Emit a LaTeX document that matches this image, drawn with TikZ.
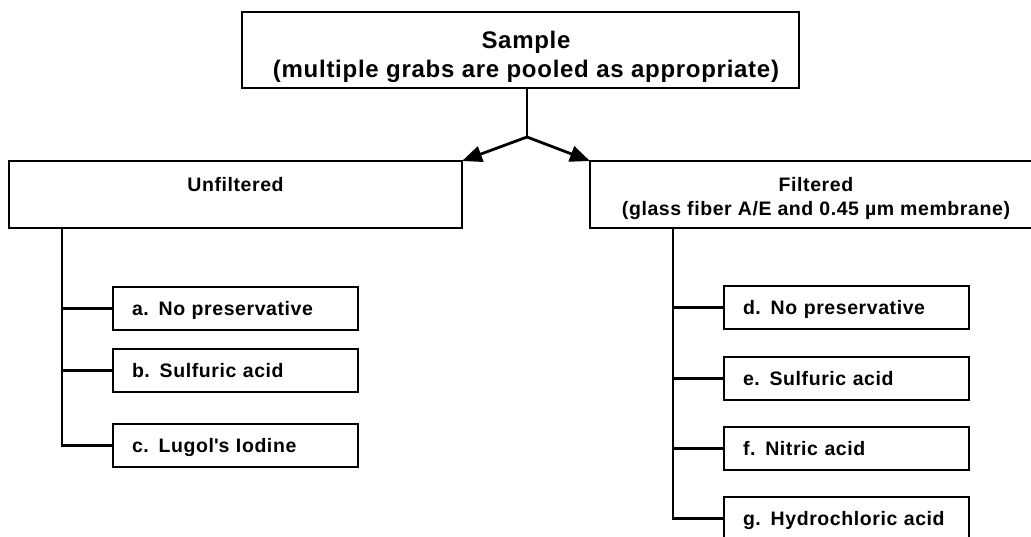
\documentclass[tikz,border=0pt]{standalone}
\usepackage{fontspec}
\setmainfont{Liberation Sans}[LetterSpace=3]
\usetikzlibrary{arrows.meta}

% type sizes for the headings and the preservation boxes
\newcommand\headfont{\fontsize{24pt}{29pt}\selectfont\bfseries}
\newcommand\midfont{\fontsize{19.5pt}{24pt}\selectfont\bfseries}

\begin{document}
\begin{tikzpicture}[x=1pt, y=-1pt,
  every node/.style={outer sep=0pt},
  frame/.style={draw, line width=2.8pt, inner sep=0pt, anchor=north west},
  leaf/.style={frame, minimum width=245pt, minimum height=43pt,
    text width=207pt, inner xsep=19pt, align=left,
    text height=14pt, text depth=0pt, font=\midfont},
  heading/.style={anchor=base, inner sep=0pt},
  link/.style={line width=2.8pt},
  tip/.style={-{Triangle[length=20pt,width=16pt]}}]

\useasboundingbox (0,0) rectangle (1031,536);
\clip (0,0) rectangle (1031,536);

% sample box
\node[frame, minimum width=557pt, minimum height=76pt] (sample) at (242,12) {};
\node[heading, font=\headfont] (sampleA) at (526,48) {Sample};
\node[heading, font=\headfont] (sampleB) at (526,77) {(multiple grabs are pooled as appropriate)};

% the two fractions
\node[frame, minimum width=453pt, minimum height=67pt] (unf) at (9,161) {};
\node[heading, font=\midfont] (unfA) at (235.5,191) {Unfiltered};

\node[frame, minimum width=452pt, minimum height=67pt] (fil) at (590,161) {};
\node[heading, font=\midfont] (filA) at (816,191) {Filtered};
\node[heading, font=\midfont] (filB) at (816,215) {(glass fiber A/E and 0.45 µm membrane)};

% split of the sample
\coordinate (junc) at (527,137);
\draw[link] (sample.south -| junc) -- (junc);
\draw[link, tip] (junc) -- (unf.north east);
\draw[link, tip] (junc) -- (fil.north west);

% unfiltered preservations
\node[leaf] (a) at (113,287) {a. No preservative};
\node[leaf] (b) at (113,349) {b. Sulfuric acid};
\node[leaf] (c) at (113,424) {c. Lugol\textquotesingle s Iodine};

\coordinate (lt) at (62,0);
\draw[link] (unf.south -| lt) |- (c.west);
\draw[link] (lt |- a.west) -- (a.west);
\draw[link] (lt |- b.west) -- (b.west);

% filtered preservations
\node[leaf] (d) at (724,286) {d. No preservative};
\node[leaf] (e) at (724,357) {e. Sulfuric acid};
\node[leaf] (f) at (724,427) {f. Nitric acid};
\node[leaf] (g) at (724,497) {g. Hydrochloric acid};

\coordinate (rt) at (673,0);
\draw[link] (fil.south -| rt) |- (g.west);
\draw[link] (rt |- d.west) -- (d.west);
\draw[link] (rt |- e.west) -- (e.west);
\draw[link] (rt |- f.west) -- (f.west);
\end{tikzpicture}
\end{document}
